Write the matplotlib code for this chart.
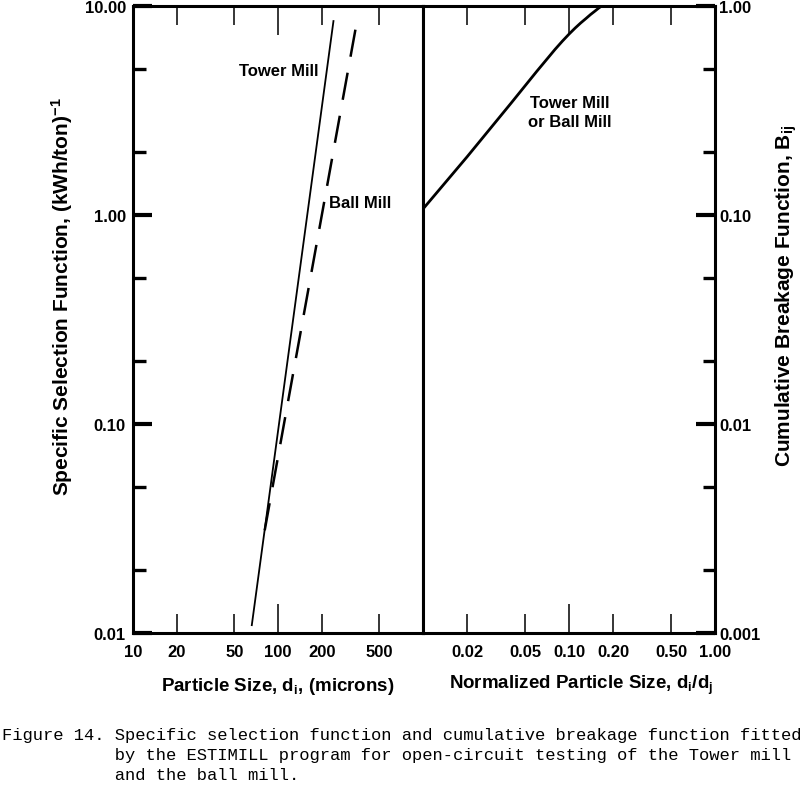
"""
Specific selection function and cumulative breakage function (ESTIMILL fit)
"""

import matplotlib
matplotlib.use('Agg')
import matplotlib.pyplot as plt

# left panel: selection function vs particle size (microns)
tower_size = [66., 241.]
tower_S = [0.0109, 8.47]
ball_size = [81., 348.]
ball_S = [0.031, 8.3]

size_ticks = [20, 50, 200, 500]
size_labels = ['20', '50', '200', '500']
S_ticks = [0.01, 0.1, 1., 10.]
S_labels = ['0.01', '0.10', '1.00', '10.00']

# right panel: cumulative breakage function vs normalized size
norm_size = [0.0101, 0.02, 0.04, 0.06, 0.08, 0.09, 0.10, 0.11, 0.12, 0.13,
             0.14, 0.15, 0.16, 0.167, 1.0]
breakage_B = [0.108, 0.19, 0.343, 0.487, 0.62, 0.68, 0.735, 0.785, 0.83, 0.87,
              0.91, 0.945, 0.98, 1.0, 1.0]

nsize_ticks = [0.02, 0.05, 0.2, 0.5]
nsize_labels = ['0.02', '0.05', '0.20', '0.50']
B_ticks = [0.001, 0.01, 0.1, 1.]
B_labels = ['0.001', '0.01', '0.10', '1.00']

minor_S = [0.02, 0.05, 0.2, 0.5, 2., 5.]
minor_B = [0.002, 0.005, 0.02, 0.05, 0.2, 0.5]

caption = ("Figure 14. Specific selection function and cumulative breakage function fitted\n"
           "           by the ESTIMILL program for open-circuit testing of the Tower mill\n"
           "           and the ball mill.")

plt.rc('font', family=['Liberation Sans', 'DejaVu Sans'], weight='bold', size=12)
plt.rc('mathtext', default='regular')

fig = plt.figure(figsize=(8, 8.03), dpi=100)
ax1 = fig.add_axes([0.166, 0.2105, 0.363, 0.7808])
ax2 = fig.add_axes([0.529, 0.2105, 0.365, 0.7808])

for ax in (ax1, ax2):
    ax.set_xscale('log')
    ax.set_yscale('log')
    for s in ax.spines.values():
        s.set_linewidth(2.2)

# left panel
ax1.plot(tower_size, tower_S, 'k-', lw=1.3)
ax1.plot(ball_size, ball_S, 'k-', lw=1.8, dashes=(11, 6.5))
ax1.set_xlim(10, 1000)
ax1.set_ylim(0.01, 10)
ax1.set_xticks([10, 100], labels=['10', '100'])
ax1.set_xticks(size_ticks, labels=size_labels, minor=True)
ax1.set_yticks(S_ticks, labels=S_labels)
ax1.set_yticks(minor_S, labels=[''] * len(minor_S), minor=True)
ax1.tick_params(axis='x', which='both', direction='in', top=True, bottom=True,
                width=1.1, pad=8, labelsize=12)
ax1.tick_params(axis='x', which='major', length=21)
ax1.tick_params(axis='x', which='minor', length=14)
ax1.tick_params(axis='y', which='both', direction='in', left=True, right=False,
                pad=5, labelsize=12)
ax1.tick_params(axis='y', which='major', length=14, width=3)
ax1.tick_params(axis='y', which='minor', length=9, width=2.4)
ax1.text(190, 4.9, 'Tower Mill', ha='right', va='center', fontsize=12)
ax1.text(226, 1.15, 'Ball Mill', ha='left', va='center', fontsize=12)

# right panel
ax2.plot(norm_size, breakage_B, 'k-', lw=2)
ax2.set_xlim(0.01, 1.)
ax2.set_ylim(0.001, 1.)
ax2.set_xticks([0.1, 1.], labels=['0.10', '1.00'])
ax2.set_xticks(nsize_ticks, labels=nsize_labels, minor=True)
ax2.yaxis.tick_right()
ax2.set_yticks(B_ticks, labels=B_labels)
ax2.set_yticks(minor_B, labels=[''] * len(minor_B), minor=True)
ax2.tick_params(axis='x', which='both', direction='in', top=True, bottom=True,
                width=1.1, pad=8, labelsize=12)
ax2.tick_params(axis='x', which='major', length=21)
ax2.tick_params(axis='x', which='minor', length=14)
ax2.tick_params(axis='y', which='both', direction='in', right=True, left=False,
                pad=3, labelsize=12)
ax2.tick_params(axis='y', which='major', length=14, width=3)
ax2.tick_params(axis='y', which='minor', length=9, width=2.4)
ax2.text(0.1016, 0.311, 'Tower Mill\nor Ball Mill', ha='center', va='center',
         fontsize=12, linespacing=1.3)

# axis titles
fig.text(0.3475, 0.1445, 'Particle Size, d$_{i}$, (microns)', ha='center',
         va='center', fontsize=13.5)
fig.text(0.726, 0.147, 'Normalized Particle Size, d$_{i}$/d$_{j}$', ha='center',
         va='center', fontsize=13.5)
fig.text(0.0775, 0.631, 'Specific Selection Function, (kWh/ton)$^{-1}$',
         rotation=90, ha='center', va='center', fontsize=15)
fig.text(0.9825, 0.631, 'Cumulative Breakage Function, B$_{ij}$',
         rotation=90, ha='center', va='center', fontsize=15)

fig.text(0.002, 0.0934, caption, ha='left', va='top', fontsize=12.3,
         family='Liberation Mono', weight='normal', linespacing=1.42)

fig.savefig('out.png', dpi=100)
